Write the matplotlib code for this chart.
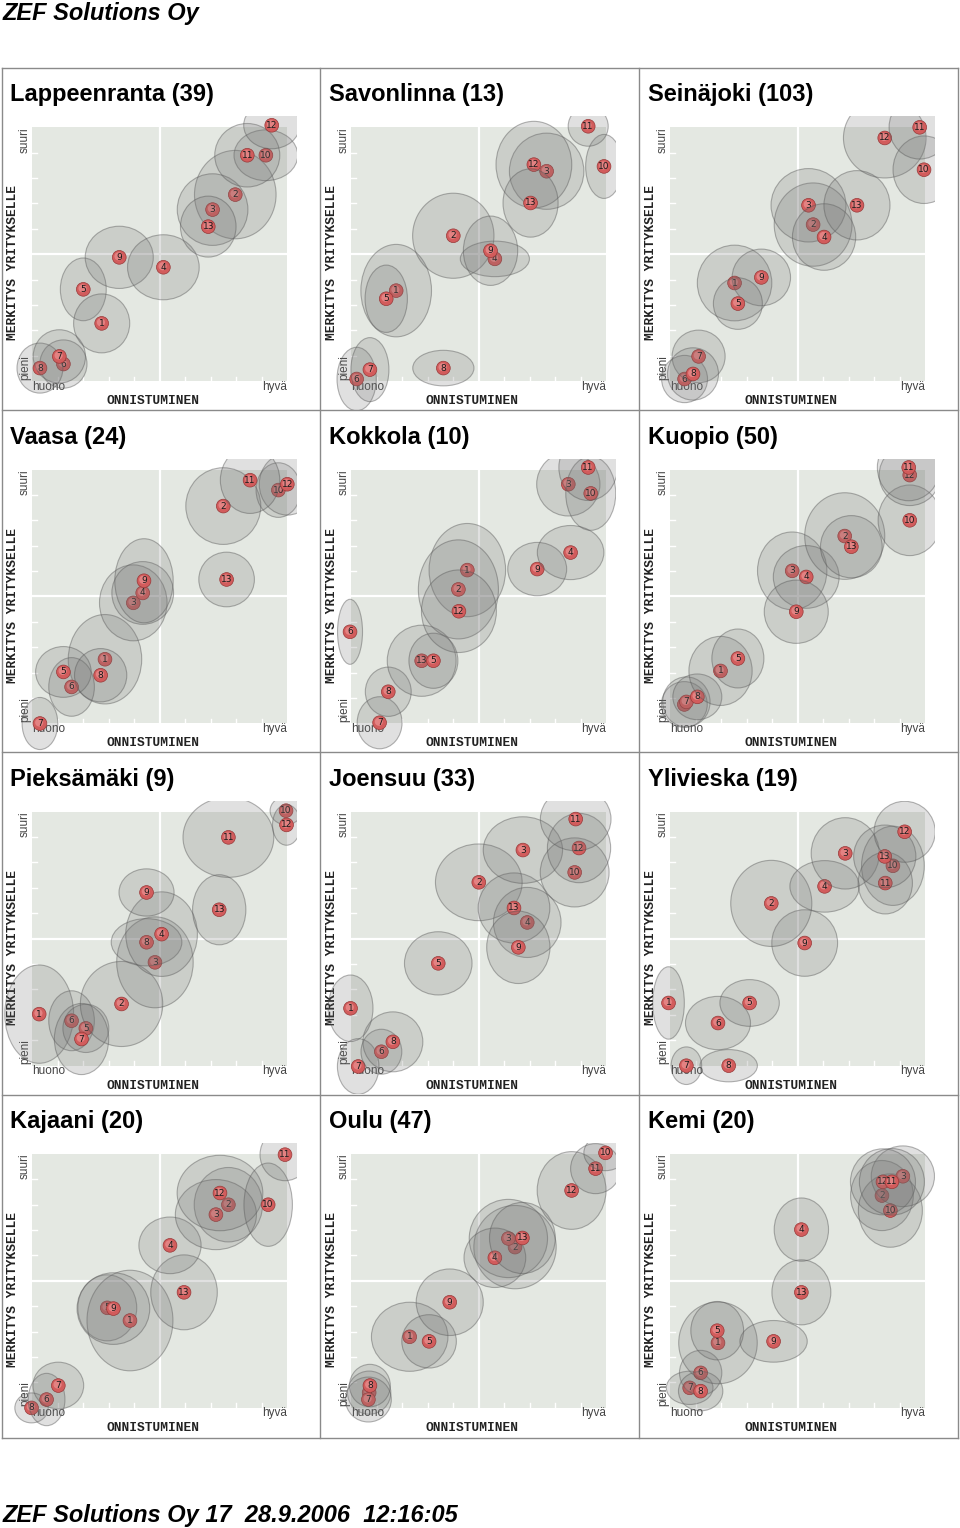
import matplotlib.pyplot as plt
from matplotlib.patches import Ellipse, Circle, Rectangle

# ---- data: item numbers in drawing order, position (onnistuminen, merkitys), spread (w, h)
lap_id = [6, 8, 7, 5, 1, 9, 4, 2, 3, 13, 10, 11, 12]
lap_x = [1.22, 0.30, 1.06, 2.00, 2.72, 3.41, 5.14, 7.96, 7.07, 6.90, 9.16, 8.43, 9.39]
lap_y = [0.68, 0.52, 0.98, 3.62, 2.28, 4.88, 4.49, 7.35, 6.76, 6.09, 8.90, 8.90, 10.08]
lap_w = [1.85, 1.80, 2.05, 1.80, 2.20, 2.67, 2.81, 3.20, 2.77, 2.18, 2.50, 2.55, 2.20]
lap_h = [1.90, 1.97, 2.10, 2.47, 2.32, 2.45, 2.56, 3.48, 2.82, 2.40, 2.00, 2.50, 1.85]

sav_id = [6, 7, 8, 1, 5, 2, 4, 9, 3, 12, 13, 10, 11]
sav_x = [0.21, 0.73, 3.61, 1.76, 1.37, 4.00, 5.63, 5.46, 7.66, 7.16, 7.03, 9.91, 9.29]
sav_y = [0.09, 0.46, 0.52, 3.57, 3.25, 5.73, 4.82, 5.14, 8.27, 8.53, 7.02, 8.46, 10.04]
sav_w = [1.54, 1.49, 2.40, 2.77, 1.66, 3.19, 2.71, 2.13, 2.92, 2.97, 2.16, 1.44, 1.57]
sav_h = [2.50, 2.52, 1.40, 3.64, 2.65, 3.35, 1.40, 2.73, 3.00, 3.41, 2.69, 2.52, 1.57]

sei_id = [6, 7, 8, 1, 9, 5, 2, 3, 4, 13, 12, 10, 11]
sei_x = [0.56, 1.11, 0.89, 2.52, 3.57, 2.65, 5.60, 5.42, 6.03, 7.32, 8.41, 9.95, 9.78]
sei_y = [0.09, 0.98, 0.29, 3.87, 4.09, 3.06, 6.17, 6.93, 5.68, 6.93, 9.58, 8.33, 10.00]
sei_w = [1.80, 2.08, 2.00, 2.92, 2.29, 1.92, 3.05, 2.94, 2.48, 2.59, 3.24, 2.43, 2.40]
sei_h = [1.86, 2.07, 2.06, 2.98, 2.23, 2.03, 3.28, 2.89, 2.62, 2.73, 3.15, 2.66, 2.50]

vaa_id = [7, 1, 6, 5, 8, 3, 4, 9, 13, 2, 10, 12, 11]
vaa_x = [0.30, 2.85, 1.54, 1.22, 2.68, 3.96, 4.33, 4.38, 7.62, 7.49, 9.65, 10.00, 8.54]
vaa_y = [0.00, 2.53, 1.44, 2.03, 1.90, 4.75, 5.14, 5.62, 5.67, 8.56, 9.19, 9.42, 9.58]
vaa_w = [1.40, 2.88, 1.79, 2.18, 2.05, 2.65, 2.42, 2.29, 2.18, 2.94, 1.75, 2.20, 2.33]
vaa_h = [2.05, 3.52, 2.31, 2.00, 2.10, 2.99, 2.47, 3.31, 2.15, 3.02, 2.15, 2.43, 2.62]

kok_id = [6, 7, 8, 13, 5, 1, 2, 12, 9, 4, 3, 10, 11]
kok_x = [-0.05, 1.11, 1.45, 2.76, 3.22, 4.55, 4.20, 4.22, 7.29, 8.60, 8.51, 9.39, 9.29]
kok_y = [3.61, 0.03, 1.25, 2.47, 2.47, 6.04, 5.28, 4.42, 6.08, 6.73, 9.42, 9.06, 10.08]
kok_w = [0.98, 1.76, 1.80, 2.70, 1.92, 3.00, 3.14, 2.94, 2.31, 2.61, 2.48, 1.96, 2.30]
kok_h = [2.56, 2.05, 1.94, 2.80, 2.17, 3.67, 3.90, 3.25, 2.10, 2.13, 2.50, 2.91, 2.60]

kuo_id = [6, 7, 8, 1, 5, 3, 4, 9, 2, 13, 10, 12, 11]
kuo_x = [0.55, 0.63, 1.06, 1.97, 2.65, 4.78, 5.33, 4.94, 6.84, 7.10, 9.39, 9.39, 9.35]
kuo_y = [0.75, 0.85, 1.05, 2.07, 2.56, 6.01, 5.77, 4.40, 7.38, 6.96, 8.00, 9.78, 10.08]
kuo_w = [1.80, 1.86, 1.92, 2.48, 2.04, 2.72, 2.58, 2.51, 3.14, 2.42, 2.48, 2.40, 2.46]
kuo_h = [1.80, 1.97, 1.80, 2.72, 2.32, 3.06, 2.47, 2.49, 3.41, 2.45, 2.78, 2.40, 2.62]

pie_id = [1, 6, 5, 7, 2, 3, 8, 4, 9, 13, 11, 10, 12]
pie_x = [0.27, 1.54, 2.10, 1.93, 3.50, 4.81, 4.48, 5.07, 4.48, 7.33, 7.69, 9.95, 9.97]
pie_y = [2.03, 1.77, 1.47, 1.05, 2.43, 4.07, 4.86, 5.18, 6.82, 6.14, 8.99, 10.04, 9.48]
pie_w = [2.70, 1.79, 1.80, 2.13, 3.23, 3.00, 2.77, 2.81, 2.16, 2.09, 3.56, 1.25, 1.10]
pie_h = [3.87, 2.36, 1.90, 2.80, 3.35, 3.58, 1.86, 3.33, 1.86, 2.76, 3.15, 1.10, 1.60]

joe_id = [7, 6, 8, 1, 5, 2, 4, 13, 9, 3, 10, 12, 11]
joe_x = [0.27, 1.18, 1.63, -0.03, 3.41, 5.00, 6.90, 6.38, 6.55, 6.73, 8.76, 8.93, 8.80]
joe_y = [-0.03, 0.55, 0.94, 2.26, 4.03, 7.22, 5.64, 6.21, 4.66, 8.49, 7.61, 8.57, 9.71]
joe_w = [1.63, 1.60, 2.35, 1.76, 2.65, 3.40, 2.65, 2.81, 2.48, 3.11, 2.70, 2.48, 2.77]
joe_h = [2.19, 1.77, 2.36, 2.62, 2.49, 3.02, 2.76, 2.76, 2.85, 2.62, 2.72, 2.73, 2.50]

yli_id = [7, 8, 1, 6, 5, 9, 2, 4, 3, 10, 11, 13, 12]
yli_x = [0.63, 2.29, -0.07, 1.87, 3.11, 5.27, 3.96, 6.05, 6.86, 8.73, 8.43, 8.41, 9.19]
yli_y = [0.00, 0.00, 2.47, 1.68, 2.47, 4.83, 6.39, 7.06, 8.36, 7.87, 7.19, 8.24, 9.21]
yli_w = [1.20, 2.25, 1.24, 2.55, 2.33, 2.58, 3.18, 2.72, 2.67, 2.46, 2.13, 2.44, 2.40]
yli_h = [1.48, 1.27, 2.85, 2.10, 1.84, 2.62, 3.39, 2.03, 2.81, 3.12, 2.43, 2.47, 2.40]

kaj_id = [8, 6, 7, 5, 1, 9, 13, 4, 2, 3, 12, 10, 11]
kaj_x = [-0.03, 0.56, 1.02, 2.94, 3.83, 3.18, 5.95, 5.40, 7.69, 7.20, 7.36, 9.25, 9.91]
kaj_y = [0.00, 0.33, 0.88, 3.94, 3.44, 3.91, 4.55, 6.40, 8.00, 7.61, 8.46, 8.00, 9.97]
kaj_w = [1.31, 1.44, 1.99, 2.31, 3.37, 2.85, 2.61, 2.44, 2.68, 3.18, 3.36, 1.90, 1.96]
kaj_h = [1.18, 2.06, 1.84, 2.60, 3.96, 2.82, 2.95, 2.23, 2.93, 2.76, 2.97, 3.28, 2.05]

oul_id = [6, 7, 8, 1, 5, 9, 2, 3, 4, 13, 12, 11, 10]
oul_x = [0.70, 0.67, 0.73, 2.29, 3.05, 3.86, 6.42, 6.16, 5.63, 6.71, 8.64, 9.58, 9.97]
oul_y = [0.60, 0.33, 0.88, 2.80, 2.62, 4.16, 6.33, 6.67, 5.91, 6.69, 8.56, 9.42, 10.04]
oul_w = [1.70, 1.80, 1.60, 3.00, 2.14, 2.63, 3.23, 3.07, 2.42, 2.58, 2.70, 1.96, 1.70]
oul_h = [1.70, 1.77, 1.67, 2.72, 2.10, 2.62, 3.28, 3.08, 2.34, 2.80, 3.06, 1.97, 1.40]

kem_id = [7, 6, 8, 1, 5, 9, 13, 4, 2, 10, 3, 12, 11]
kem_x = [0.76, 1.19, 1.19, 1.87, 1.84, 4.05, 5.14, 5.14, 8.30, 8.63, 9.12, 8.34, 8.69]
kem_y = [0.79, 1.38, 0.66, 2.56, 3.04, 2.62, 4.55, 7.02, 8.36, 7.77, 9.12, 8.90, 8.90]
kem_w = [1.83, 1.66, 1.74, 3.08, 2.07, 2.64, 2.31, 2.13, 2.46, 2.51, 2.48, 2.55, 2.55]
kem_h = [1.31, 1.77, 1.55, 3.22, 2.30, 1.64, 2.56, 2.49, 2.76, 2.89, 2.39, 2.60, 2.62]

titles = ['Lappeenranta (39)', 'Savonlinna (13)', 'Seinäjoki (103)',
          'Vaasa (24)', 'Kokkola (10)', 'Kuopio (50)',
          'Pieksämäki (9)', 'Joensuu (33)', 'Ylivieska (19)',
          'Kajaani (20)', 'Oulu (47)', 'Kemi (20)']
panels = [(lap_id, lap_x, lap_y, lap_w, lap_h), (sav_id, sav_x, sav_y, sav_w, sav_h),
          (sei_id, sei_x, sei_y, sei_w, sei_h), (vaa_id, vaa_x, vaa_y, vaa_w, vaa_h),
          (kok_id, kok_x, kok_y, kok_w, kok_h), (kuo_id, kuo_x, kuo_y, kuo_w, kuo_h),
          (pie_id, pie_x, pie_y, pie_w, pie_h), (joe_id, joe_x, joe_y, joe_w, joe_h),
          (yli_id, yli_x, yli_y, yli_w, yli_h), (kaj_id, kaj_x, kaj_y, kaj_w, kaj_h),
          (oul_id, oul_x, oul_y, oul_w, oul_h), (kem_id, kem_x, kem_y, kem_w, kem_h)]

SANS = 'Liberation Sans'
MONO = 'Liberation Mono'
BG = '#e4e8e2'
BORDER = '#8a8a8a'

fig = plt.figure(figsize=(9.6, 15.28), dpi=100)

# page frame in pixel coordinates
page = fig.add_axes([0, 0, 1, 1])
page.set_xlim(0, 960)
page.set_ylim(1528, 0)
page.axis('off')
for xv in [2, 320, 639, 958]:
    page.plot([xv, xv], [68, 1438], color=BORDER, lw=1)
for yv in [68, 410, 752, 1095, 1438]:
    page.plot([2, 958], [yv, yv], color=BORDER, lw=1)
page.text(3, 20, 'ZEF Solutions Oy', fontsize=17, fontweight='bold', style='italic', family=SANS)
page.text(3, 1522, 'ZEF Solutions Oy 17  28.9.2006  12:16:05', fontsize=17,
          fontweight='bold', style='italic', family=SANS)

for i, (title, (ids, xs, ys, ws, hs)) in enumerate(zip(titles, panels)):
    r, c = divmod(i, 3)
    x0 = 32.3 + 319 * c
    y0 = 127.3 + 342.2 * r
    ax = fig.add_axes([x0 / 960, 1 - (y0 + 254) / 1528, 255 / 960, 254 / 1528])
    ax.set_xlim(0, 10)
    ax.set_ylim(0, 10)
    ax.axis('off')

    ax.add_patch(Rectangle((0, 0), 10, 10, facecolor=BG, edgecolor='none', zorder=0))
    ax.plot([5, 5], [0, 10], color='white', lw=1.6, zorder=1)
    ax.plot([0, 10], [5, 5], color='white', lw=1.6, zorder=1)
    for t in [1, 2, 3, 4, 6, 7, 8, 9]:
        ax.plot([t, t], [0, 0.18], color='white', lw=1, zorder=1)
        ax.plot([0, 0.18], [t, t], color='white', lw=1, zorder=1)

    ax.text(-0.87, 11.02, title, fontsize=17, fontweight='bold', family=SANS)
    ax.text(-0.29, 9.5, 'suuri', rotation=90, ha='center', va='center', fontsize=8.5,
            color='#444444', family=SANS, zorder=2)
    ax.text(-0.29, 0.56, 'pieni', rotation=90, ha='center', va='center', fontsize=8.5,
            color='#444444', family=SANS, zorder=2)
    ax.text(0, -0.22, 'huono', ha='left', va='center', fontsize=8.5,
            color='#444444', family=SANS, zorder=2)
    ax.text(10, -0.22, 'hyvä', ha='right', va='center', fontsize=8.5,
            color='#444444', family=SANS, zorder=2)
    ax.text(-0.77, 4.66, 'MERKITYS YRITYKSELLE', rotation=90, ha='center', va='center',
            fontsize=9.3, fontweight='bold', family=MONO, color='#222222', zorder=2)
    ax.text(4.75, -0.78, 'ONNISTUMINEN', ha='center', va='center',
            fontsize=9.3, fontweight='bold', family=MONO, color='#222222', zorder=2)

    # bubbles may spill out of the plot area up to the panel edge / a top-right margin
    clip = Rectangle((-1.2, -1.13), 11.57, 11.56, transform=ax.transData)
    z = 3
    for n, x, y, w, h in zip(ids, xs, ys, ws, hs):
        e = Ellipse((x, y), w, h, facecolor=(0.45, 0.45, 0.45, 0.22),
                    edgecolor=(0.35, 0.35, 0.35, 0.45), lw=0.8, zorder=z)
        dot = Circle((x, y), 0.27, facecolor='#d25c5c', edgecolor='#983838', lw=0.5, zorder=z + 0.1)
        hi = Circle((x - 0.03, y + 0.04), 0.16, facecolor='#ea9090', edgecolor='none',
                    alpha=0.75, zorder=z + 0.2)
        for p in (e, dot, hi):
            ax.add_patch(p)
            p.set_clip_path(clip)
        lab = ax.text(x, y, str(n), ha='center', va='center', fontsize=6.5,
                      color='#1a1a1a', family='DejaVu Sans', zorder=z + 0.3)
        lab.set_clip_path(clip)
        z += 1

fig.savefig('out.png', dpi=100)
